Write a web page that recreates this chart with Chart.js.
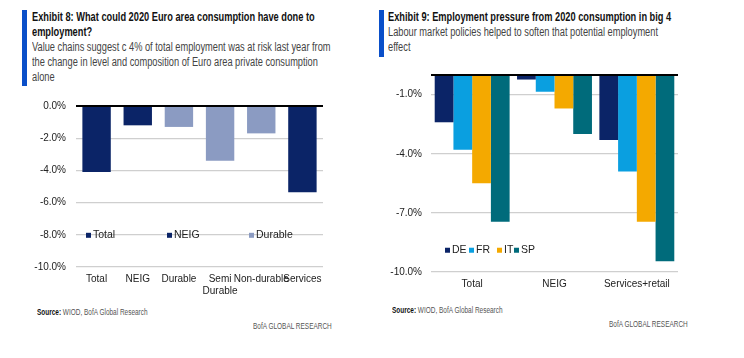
<!DOCTYPE html>
<html>
<head>
<meta charset="utf-8">
<script src="https://cdn.jsdelivr.net/npm/chart.js@4"></script>
<style>
  body { margin: 0; background: #fff; width: 744px; height: 358px; position: relative; overflow: hidden; font-family: "Liberation Sans", Arial, sans-serif; }
  .bar { position: absolute; width: 5px; background: #0a4fc9; }
  .head { position: absolute; white-space: nowrap; transform: scaleX(0.74); transform-origin: 0 0; }
  .head h2 { margin: 0; font-size: 12.5px; font-weight: bold; color: #111; line-height: 15px; }
  .head p { margin: 0; font-size: 12.5px; color: #444; line-height: 15px; }
  .small { position: absolute; font-size: 8.5px; color: #555; white-space: nowrap; transform: scaleX(0.76); transform-origin: 0 0; }
  .small b { color: #111; }
  .box { position: absolute; }
</style>
</head>
<body>
<div class="bar" style="left:22px; top:10px; height:76px;"></div>
<div class="head" style="left:32px; top:10px;">
  <h2>Exhibit 8: What could 2020 Euro area consumption have done to<br>employment?</h2>
  <p>Value chains suggest c 4% of total employment was at risk last year from<br>the change in level and composition of Euro area private consumption<br>alone</p>
</div>
<div class="bar" style="left:379px; top:10px; height:47px;"></div>
<div class="head" style="left:388px; top:10px;">
  <h2>Exhibit 9: Employment pressure from 2020 consumption in big 4</h2>
  <p>Labour market policies helped to soften that potential employment<br>effect</p>
</div>
<div class="box" style="left:0; top:90px; width:330px; height:210px;"><canvas id="left"></canvas></div>
<div class="box" style="left:372px; top:60px; width:320px; height:240px;"><canvas id="right"></canvas></div>
<div class="small" style="left:37px; top:307px;"><b>Source:</b> WIOD, BofA Global Research</div>
<div class="small" style="left:253px; top:321px;">BofA GLOBAL RESEARCH</div>
<div class="small" style="left:392px; top:305px;"><b>Source:</b> WIOD, BofA Global Research</div>
<div class="small" style="left:609px; top:319px;">BofA GLOBAL RESEARCH</div>
<script>
// Exhibit 8
const leftCategories = ['Total', 'NEIG', 'Durable', ['Semi', 'Durable'], 'Non-durable', 'Services'];
const leftTotal   = [-4.1, null, null, null, null, null];
const leftNEIG    = [null, -1.2, null, null, null, -5.35];
const leftDurable = [null, null, -1.3, -3.4, -1.7, null];
const leftTicks = [-10, -8, -6, -4, -2, 0];

// Exhibit 9
const rightCategories = ['Total', 'NEIG', 'Services+retail'];
const rightDE = [-2.4, -0.23, -3.3];
const rightFR = [-3.8, -0.85, -4.9];
const rightIT = [-5.5, -1.7, -7.45];
const rightSP = [-7.45, -3.0, -9.45];
const rightTicks = [-10, -7, -4, -1, 0];

const NAVY = '#0b2467', LIGHT = '#8b9bc2', BLUE = '#0a9fe0', GOLD = '#f4a900', TEAL = '#006b7b';
const FONT = { family: '"Liberation Sans", Arial, sans-serif', size: 10 };

// legend drawn inside the plot, one entry per dataset
const innerLegend = {
  id: 'innerLegend',
  afterDatasetsDraw(chart, args, opts) {
    const ctx = chart.ctx;
    const y = chart.scales.y.getPixelForValue(opts.value);
    ctx.save();
    ctx.font = '10.5px "Liberation Sans", Arial, sans-serif';
    ctx.textBaseline = 'middle';
    chart.data.datasets.forEach((ds, i) => {
      const x = chart.chartArea.left + opts.xs[i];
      ctx.fillStyle = ds.backgroundColor;
      ctx.fillRect(x, y - 2, 5, 5);
      ctx.fillStyle = '#222';
      ctx.fillText(ds.label, x + 7, y);
    });
    ctx.restore();
  }
};

function yScale(ticks, width, pad) {
  return {
    min: ticks[0], max: ticks[ticks.length - 1],
    afterBuildTicks: s => { s.ticks = ticks.map(v => ({ value: v })); },
    afterFit: s => { s.width = width; },
    border: { display: false },
    grid: {
      drawTicks: false,
      color: c => c.tick.value === 0 ? '#000' : '#cfcfcf',
      lineWidth: c => c.tick.value === 0 ? 2 : 1.3
    },
    ticks: {
      padding: pad, color: '#222', font: FONT,
      callback: v => v === 0 && ticks.indexOf(-1) >= 0 ? '' : v.toFixed(1) + '%'
    }
  };
}

new Chart(document.getElementById('left'), {
  type: 'bar',
  data: {
    labels: leftCategories,
    datasets: [
      { label: 'Total', data: leftTotal, backgroundColor: NAVY },
      { label: 'NEIG', data: leftNEIG, backgroundColor: NAVY },
      { label: 'Durable', data: leftDurable, backgroundColor: LIGHT }
    ]
  },
  options: {
    responsive: true, maintainAspectRatio: false, animation: false,
    layout: { padding: { top: 15, right: 7, left: 0, bottom: 0 } },
    datasets: { bar: { barPercentage: 1, categoryPercentage: 0.69, skipNull: true } },
    plugins: { legend: { display: false }, tooltip: { enabled: false },
      innerLegend: { value: -8, xs: [10, 91, 173] } },
    scales: {
      x: {
        stacked: true,
        afterFit: s => { s.height = 33; },
        border: { display: false },
        grid: { display: false, drawTicks: false },
        ticks: { padding: 6, color: '#222', font: FONT, maxRotation: 0, autoSkip: false }
      },
      y: yScale(leftTicks, 76, 10)
    }
  },
  plugins: [innerLegend]
});

new Chart(document.getElementById('right'), {
  type: 'bar',
  data: {
    labels: rightCategories,
    datasets: [
      { label: 'DE', data: rightDE, backgroundColor: NAVY },
      { label: 'FR', data: rightFR, backgroundColor: BLUE },
      { label: 'IT', data: rightIT, backgroundColor: GOLD },
      { label: 'SP', data: rightSP, backgroundColor: TEAL }
    ]
  },
  options: {
    responsive: true, maintainAspectRatio: false, animation: false,
    layout: { padding: { top: 13, right: 14, left: 0, bottom: 0 } },
    datasets: { bar: { barPercentage: 1, categoryPercentage: 0.91 } },
    plugins: { legend: { display: false }, tooltip: { enabled: false },
      innerLegend: { value: -8.87, xs: [14, 38, 66, 83] } },
    scales: {
      x: {
        afterFit: s => { s.height = 28; },
        border: { display: false },
        grid: { display: false, drawTicks: false },
        ticks: { padding: 6, color: '#222', font: FONT, maxRotation: 0, autoSkip: false }
      },
      y: yScale(rightTicks, 59, 9)
    }
  },
  plugins: [innerLegend]
});
</script>
</body>
</html>
